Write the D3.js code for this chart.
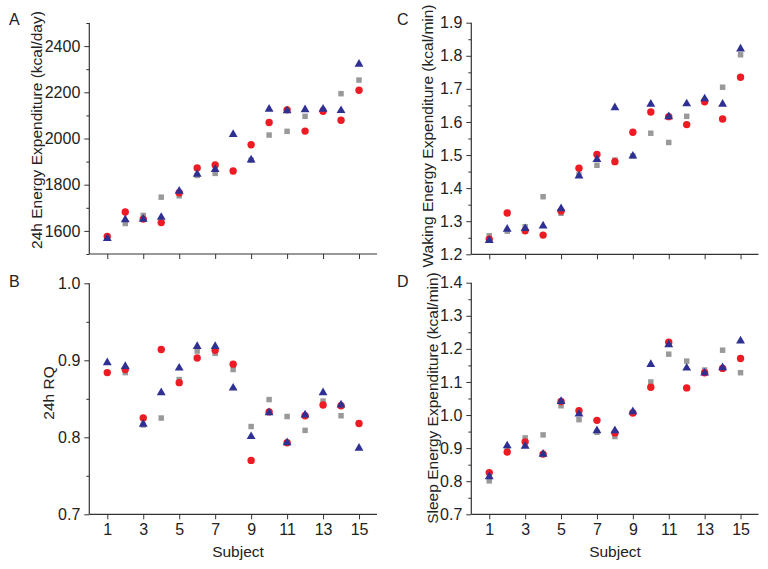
<!DOCTYPE html>
<html>
<head>
<meta charset="utf-8">
<script src="https://cdn.jsdelivr.net/npm/d3@7"></script>
<style>
  html, body { margin: 0; padding: 0; background: #fff; }
  svg { display: block; font-family: Arial, "Liberation Sans", Helvetica, sans-serif; }
</style>
</head>
<body>
<svg id="chart" width="768" height="569"></svg>
<script>
// ---------------- data ----------------
const subjects = [1,2,3,4,5,6,7,8,9,10,11,12,13,14,15];
const xTickValues = [1,3,5,7,9,11,13,15];

// Panel A: 24h Energy Expenditure (kcal/day)
const eeRed  = [1576,1682,1651,1636,1765,1872,1885,1859,1973,2069,2124,2032,2118,2079,2209];
const eeGray = [1572,1632,1667,1746,1752,1840,1849,1858,1906,2015,2031,2096,2123,2194,2253];
const eeNavy = [1567,1649,1651,1659,1772,1845,1866,2018,1907,2127,2120,2125,2127,2121,2322];
const eeMajorTicks = [1600,1800,2000,2200,2400];
const eeMinorTicks = [1500,1700,1900,2100,2300,2500];

// Panel B: 24h RQ
const rqRed  = [0.884,0.888,0.825,0.914,0.871,0.903,0.913,0.895,0.770,0.833,0.793,0.828,0.842,0.841,0.818];
const rqGray = [0.884,0.884,0.816,0.825,0.875,0.912,0.909,0.888,0.814,0.849,0.827,0.809,0.847,0.828,0.818];
const rqNavy = [0.897,0.892,0.817,0.858,0.890,0.918,0.918,0.864,0.801,0.832,0.793,0.829,0.858,0.842,0.786];
const rqMajorTicks = [0.7,0.8,0.9,1.0];
const rqMinorTicks = [0.75,0.85,0.95];

// Panel C: Waking Energy Expenditure (kcal/min)
const wakeRed  = [1.246,1.325,1.271,1.258,1.331,1.460,1.502,1.480,1.569,1.630,1.616,1.592,1.661,1.609,1.735];
const wakeGray = [1.256,1.270,1.283,1.374,1.324,1.440,1.469,1.485,1.497,1.566,1.538,1.617,1.665,1.705,1.803];
const wakeNavy = [1.242,1.276,1.278,1.286,1.338,1.437,1.487,1.643,1.497,1.654,1.616,1.655,1.670,1.654,1.821];
const wakeMajorTicks = [1.2,1.3,1.4,1.5,1.6,1.7,1.8,1.9];
const wakeMinorTicks = [1.25,1.35,1.45,1.55,1.65,1.75,1.85];

// Panel D: Sleep Energy Expenditure (kcal/min)
const sleepRed  = [0.826,0.888,0.919,0.882,1.041,1.013,0.984,0.946,1.006,1.084,1.220,1.082,1.128,1.141,1.171];
const sleepGray = [0.801,0.895,0.931,0.940,1.028,0.986,0.948,0.935,1.006,1.100,1.184,1.163,1.136,1.196,1.128];
const sleepNavy = [0.814,0.907,0.906,0.882,1.041,1.003,0.953,0.953,1.010,1.153,1.213,1.142,1.127,1.143,1.224];
const sleepMajorTicks = [0.7,0.8,0.9,1.0,1.1,1.2,1.3,1.4];
const sleepMinorTicks = [0.75,0.85,0.95,1.05,1.15,1.25,1.35];

// ---------------- styling / layout ----------------
const COL_RED = "#ed1c24", COL_GRAY = "#999999", COL_NAVY = "#2e3192", AXIS = "#333";
const svg = d3.select("#chart");

const panels = [
  { letter:"A", letterPos:[9,25], x:[89.3,377], y:[254,23], dom:[1500,2500],
    red:eeRed, gray:eeGray, navy:eeNavy, major:eeMajorTicks, minor:eeMinorTicks, fmt:d3.format("d"),
    title:"24h Energy Expenditure (kcal/day)", titlePos:[36.5,130], xLabels:false },
  { letter:"B", letterPos:[9,287], x:[89.3,377], y:[514.3,283.3], dom:[0.7,1.0],
    red:rqRed, gray:rqGray, navy:rqNavy, major:rqMajorTicks, minor:rqMinorTicks, fmt:d3.format(".1f"),
    title:"24h RQ", titlePos:[48.5,393], xLabels:true, xTitlePos:[238,557] },
  { letter:"C", letterPos:[397,25], x:[471.3,758.5], y:[254.3,22.7], dom:[1.2,1.9],
    red:wakeRed, gray:wakeGray, navy:wakeNavy, major:wakeMajorTicks, minor:wakeMinorTicks, fmt:d3.format(".1f"),
    title:"Waking Energy Expenditure (kcal/min)", titlePos:[427,136], xLabels:false },
  { letter:"D", letterPos:[397,287], x:[471.3,758.5], y:[514.3,282.7], dom:[0.7,1.4],
    red:sleepRed, gray:sleepGray, navy:sleepNavy, major:sleepMajorTicks, minor:sleepMinorTicks, fmt:d3.format(".1f"),
    title:"Sleep Energy Expenditure (kcal/min)", titlePos:[432,398], xLabels:true, xTitlePos:[615,557] }
];

panels.forEach(p => {
  const xs = d3.scaleLinear().domain([0,16]).range(p.x);
  const ys = d3.scaleLinear().domain(p.dom).range(p.y);
  const g = svg.append("g");

  // y axis major
  const yAxis = d3.axisLeft(ys).tickValues(p.major).tickSize(5).tickPadding(4).tickFormat(p.fmt);
  const ga = g.append("g").attr("transform", `translate(${p.x[0]},0)`).call(yAxis);
  // y axis minor
  const yMinor = d3.axisLeft(ys).tickValues(p.minor).tickSize(3).tickFormat("");
  const gm = g.append("g").attr("transform", `translate(${p.x[0]},0)`).call(yMinor);
  gm.select(".domain").remove();

  // x axis
  const xAxis = d3.axisBottom(xs).tickValues(xTickValues).tickSize(5).tickPadding(4)
      .tickFormat(p.xLabels ? d3.format("d") : "");
  const gx = g.append("g").attr("transform", `translate(0,${p.y[0]})`).call(xAxis);

  [ga, gm, gx].forEach(a => {
    a.selectAll(".domain").attr("stroke", AXIS).attr("stroke-width", 1.2);
    a.selectAll(".tick line").attr("stroke", AXIS).attr("stroke-width", 1);
    a.selectAll(".tick text").attr("fill", "#222").attr("font-size", 16)
      .attr("font-family", "Arial, 'Liberation Sans', sans-serif");
  });
  ga.select(".domain").attr("d", `M0,${p.y[0]}V${p.y[1]}`);
  gx.select(".domain").attr("d", `M${p.x[0]},0H${p.x[1]}`);

  // titles
  g.append("text").attr("transform", `translate(${p.titlePos[0]},${p.titlePos[1]}) rotate(-90)`)
    .attr("text-anchor","middle").attr("dominant-baseline","central")
    .attr("font-size",15.5).attr("fill","#222").text(p.title);
  if (p.xLabels) {
    g.append("text").attr("x", p.xTitlePos[0]).attr("y", p.xTitlePos[1])
      .attr("text-anchor","middle").attr("font-size",15.5).attr("fill","#222").text("Subject");
  }
  g.append("text").attr("x", p.letterPos[0]).attr("y", p.letterPos[1])
    .attr("font-size",16).attr("fill","#222").text(p.letter);

  // markers: squares, circles, triangles
  const sq = d3.symbol().type(d3.symbolSquare).size(30);
  const tri = d3.symbol().type(d3.symbolTriangle).size(34);
  g.append("g").selectAll("path").data(subjects).join("path")
    .attr("d", sq).attr("fill", COL_GRAY)
    .attr("transform", (d,i) => `translate(${xs(d)},${ys(p.gray[i])})`);
  g.append("g").selectAll("circle").data(subjects).join("circle")
    .attr("r", 3.7).attr("fill", COL_RED)
    .attr("cx", d => xs(d)).attr("cy", (d,i) => ys(p.red[i]));
  g.append("g").selectAll("path").data(subjects).join("path")
    .attr("d", tri).attr("fill", COL_NAVY)
    .attr("transform", (d,i) => `translate(${xs(d)},${ys(p.navy[i])})`);
});
</script>
</body>
</html>
